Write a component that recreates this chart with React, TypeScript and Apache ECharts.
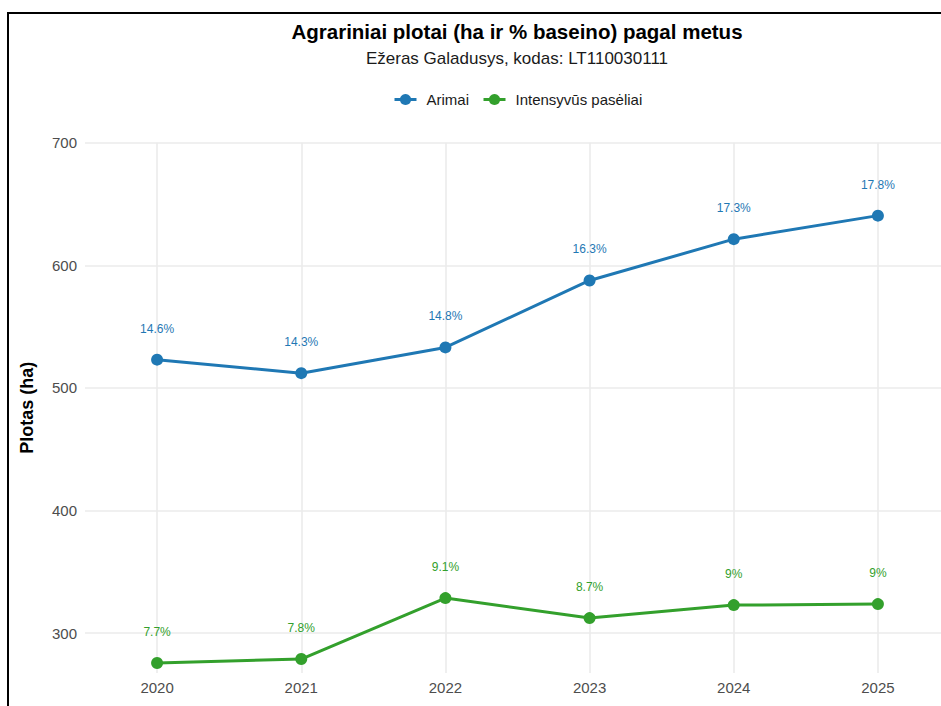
import React, { useEffect, useRef } from 'react';
import * as echarts from 'echarts';

const years = [2020, 2021, 2022, 2023, 2024, 2025];
const arimai = [523, 512, 533, 587.6, 621.3, 640.5];
const intensyvus = [275.6, 278.8, 328.5, 312.2, 322.8, 323.6];
const arimaiPct = ['14.6%', '14.3%', '14.8%', '16.3%', '17.3%', '17.8%'];
const intensyvusPct = ['7.7%', '7.8%', '9.1%', '8.7%', '9%', '9%'];
const seriesNames = ['Arimai', 'Intensyvūs pasėliai'];
const titleText = 'Agrariniai plotai (ha ir % baseino) pagal metus';
const subtitleText = 'Ežeras Galadusys, kodas: LT110030111';
const yName = 'Plotas (ha)';

const FONT = '"Liberation Sans", Arial, sans-serif';
const BLUE = '#1f78b4';
const GREEN = '#33a02c';

export default function App() {
  const ref = useRef<HTMLDivElement>(null);
  useEffect(() => {
    const chart = echarts.init(ref.current!, null, { renderer: 'svg' });
    const mkSeries = (name: string, vals: number[], pct: string[], color: string) => ({
      name,
      type: 'line',
      data: years.map((y, i) => [y, vals[i]]),
      symbol: 'circle',
      symbolSize: 12,
      lineStyle: { width: 3, color },
      itemStyle: { color },
      label: {
        show: true,
        position: 'top',
        distance: 19,
        color,
        fontSize: 12,
        fontFamily: FONT,
        formatter: (p: any) => pct[p.dataIndex],
      },
    });
    chart.setOption({
      animation: false,
      textStyle: { fontFamily: FONT },
      graphic: [
        {
          type: 'text',
          x: 508,
          y: 17,
          style: {
            text: titleText,
            textAlign: 'center',
            textVerticalAlign: 'middle',
            fontSize: 20.5,
            fontWeight: 'bold',
            fontFamily: FONT,
            fill: '#000',
          },
        },
        {
          type: 'text',
          x: 508,
          y: 44,
          style: {
            text: subtitleText,
            textAlign: 'center',
            textVerticalAlign: 'middle',
            fontSize: 17,
            fontFamily: FONT,
            fill: '#1a1a1a',
          },
        },
      ],
      legend: {
        data: seriesNames,
        left: 379,
        top: 73,
        itemWidth: 22,
        itemHeight: 14,
        itemGap: 13,
        lineStyle: { width: 3 },
        textStyle: { fontSize: 15, color: '#1a1a1a', fontFamily: FONT, padding: [0, 0, 0, 5] },
      },
      grid: { left: 76, right: 19, top: 128.7, bottom: 61, containLabel: false },
      xAxis: {
        type: 'value',
        min: 2019.5,
        max: 2025.5,
        minInterval: 1,
        maxInterval: 1,
        axisLine: { show: false },
        axisTick: { show: false },
        axisLabel: {
          color: '#4d4d4d',
          fontSize: 15,
          margin: 7,
          showMinLabel: false,
          showMaxLabel: false,
          formatter: (v: number) => (Number.isInteger(v) ? String(v) : ''),
        },
        splitLine: {
          show: true,
          showMinLine: false,
          showMaxLine: false,
          lineStyle: { color: '#ebebeb', width: 1.6 },
        },
      },
      yAxis: {
        type: 'value',
        min: 267.4,
        max: 700,
        minInterval: 100,
        maxInterval: 100,
        name: yName,
        nameLocation: 'middle',
        nameGap: 49,
        nameRotate: 90,
        nameTextStyle: { fontSize: 18, fontWeight: 'bold', color: '#000', fontFamily: FONT },
        axisLine: { show: false },
        axisTick: { show: false },
        axisLabel: {
          color: '#4d4d4d',
          fontSize: 15,
          margin: 8,
          showMinLabel: false,
          formatter: (v: number) => (v % 100 === 0 ? String(v) : ''),
        },
        splitLine: {
          show: true,
          showMinLine: false,
          lineStyle: { color: '#ebebeb', width: 1.6 },
        },
      },
      series: [
        mkSeries(seriesNames[0], arimai, arimaiPct, BLUE),
        mkSeries(seriesNames[1], intensyvus, intensyvusPct, GREEN),
      ],
    });
    return () => chart.dispose();
  }, []);
  return (
    <div
      style={{
        position: 'fixed',
        left: 0,
        top: 0,
        width: 941,
        height: 706,
        overflow: 'hidden',
        background: '#fff',
      }}
    >
      <div
        style={{
          position: 'absolute',
          left: 7,
          top: 12,
          width: 1000,
          height: 760,
          border: '2px solid #000',
          background: '#fff',
        }}
      >
        <div ref={ref} style={{ width: 960, height: 720 }} />
      </div>
    </div>
  );
}
